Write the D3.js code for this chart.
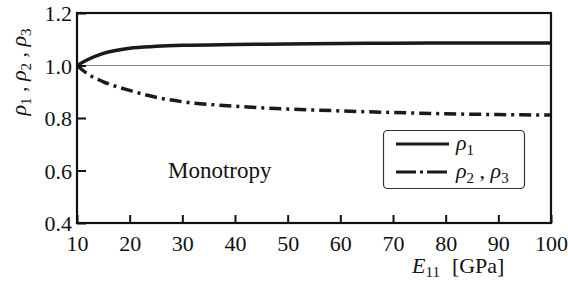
<!DOCTYPE html>
<html>
<head>
<meta charset="utf-8">
<script src="https://cdn.jsdelivr.net/npm/d3@7"></script>
<style>
  body { margin: 0; background: #fff; }
  svg text { font-family: "Liberation Serif", "Times New Roman", serif; fill: #111; }
</style>
</head>
<body>
<script>
var width = 568;
var height = 283;
var margin = { top: 13, right: 17, bottom: 60, left: 77 };

var modulus = [10, 12, 15, 20, 25, 30, 40, 50, 60, 70, 80, 90, 100];
var rho1 = [1.0, 1.022, 1.046, 1.066, 1.073, 1.077, 1.080, 1.082, 1.084, 1.085, 1.086, 1.086, 1.086];
var rho23 = [1.0, 0.968, 0.938, 0.905, 0.879, 0.862, 0.845, 0.834, 0.827, 0.821, 0.816, 0.813, 0.811];
var xTicks = [10, 20, 30, 40, 50, 60, 70, 80, 90, 100];
var yTicks = [0.4, 0.6, 0.8, 1.0, 1.2];

var svg = d3.select('body')
  .append('svg')
  .attr('width', width)
  .attr('height', height);

var xScale = d3.scaleLinear()
  .domain([10, 100])
  .range([margin.left, width - margin.right]);

var yScale = d3.scaleLinear()
  .domain([0.4, 1.2])
  .range([height - margin.bottom, margin.top]);

// thin reference line at 1.0
svg.append('line')
  .attr('x1', xScale(10))
  .attr('x2', xScale(100))
  .attr('y1', yScale(1))
  .attr('y2', yScale(1))
  .attr('stroke', '#888')
  .attr('stroke-width', 1);

var line = d3.line()
  .curve(d3.curveMonotoneX)
  .x(function(d) { return xScale(d[0]); })
  .y(function(d) { return yScale(d[1]); });

svg.append('path')
  .datum(d3.zip(modulus, rho1))
  .attr('d', line)
  .attr('fill', 'none')
  .attr('stroke', '#1a1a1a')
  .attr('stroke-width', 3.5);

svg.append('path')
  .datum(d3.zip(modulus, rho23))
  .attr('d', line)
  .attr('fill', 'none')
  .attr('stroke', '#1a1a1a')
  .attr('stroke-width', 3.5)
  .attr('stroke-dasharray', '12,5,3,5');

var xAxis = d3.axisBottom(xScale)
  .tickValues(xTicks)
  .tickSizeInner(-8)
  .tickSizeOuter(0)
  .tickPadding(12)
  .tickFormat(d3.format('d'));

var yAxis = d3.axisLeft(yScale)
  .tickValues(yTicks)
  .tickSizeInner(-9)
  .tickSizeOuter(0)
  .tickPadding(5)
  .tickFormat(d3.format('.1f'));

var gx = svg.append('g')
  .attr('transform', 'translate(0,' + (height - margin.bottom) + ')')
  .call(xAxis);

var gy = svg.append('g')
  .attr('transform', 'translate(' + margin.left + ',0)')
  .call(yAxis);

[gx, gy].forEach(function(g) {
  g.attr('font-family', null).attr('font-size', null);
  g.select('.domain').remove();
  g.selectAll('line').attr('stroke', '#111').attr('stroke-width', 2);
  g.selectAll('text')
    .style('font-size', '22px')
    .attr('fill', '#111');
});
gy.selectAll('text').attr('dy', '0.36em');

// frame
svg.append('rect')
  .attr('x', xScale(10))
  .attr('y', yScale(1.2))
  .attr('width', xScale(100) - xScale(10))
  .attr('height', yScale(0.4) - yScale(1.2))
  .attr('fill', 'none')
  .attr('stroke', '#111')
  .attr('stroke-width', 2.2);

svg.append('text')
  .attr('x', 168)
  .attr('y', 178)
  .style('font-size', '23px')
  .text('Monotropy');

// legend
var legend = svg.append('g');
legend.append('rect')
  .attr('x', 383.5)
  .attr('y', 130.5)
  .attr('width', 141)
  .attr('height', 58)
  .attr('rx', 4)
  .attr('fill', '#fff')
  .attr('stroke', '#333')
  .attr('stroke-width', 1.2);

legend.append('line')
  .attr('x1', 396).attr('x2', 449)
  .attr('y1', 144).attr('y2', 144)
  .attr('stroke', '#1a1a1a').attr('stroke-width', 3.2);

legend.append('line')
  .attr('x1', 396).attr('x2', 449)
  .attr('y1', 172).attr('y2', 172)
  .attr('stroke', '#1a1a1a').attr('stroke-width', 3.2)
  .attr('stroke-dasharray', '20,4,3,4');

var l1 = legend.append('text').attr('x', 456).attr('y', 150).style('font-size', '22px');
l1.append('tspan').style('font-style', 'italic').text('ρ');
l1.append('tspan').style('font-size', '15px').attr('dy', 5).text('1');

var l2 = legend.append('text').attr('x', 456).attr('y', 178).style('font-size', '22px');
l2.append('tspan').style('font-style', 'italic').text('ρ');
l2.append('tspan').style('font-size', '15px').attr('dy', 5).text('2');
l2.append('tspan').attr('dy', -5).text(' , ');
l2.append('tspan').style('font-style', 'italic').text('ρ');
l2.append('tspan').style('font-size', '15px').attr('dy', 5).text('3');

// y label
var yl = svg.append('text')
  .attr('transform', 'translate(26,72) rotate(-90)')
  .attr('text-anchor', 'middle')
  .style('font-size', '22px');
[['ρ', '1', ' , '], ['ρ', '2', ' , '], ['ρ', '3', '']].forEach(function(p) {
  yl.append('tspan').style('font-style', 'italic').text(p[0]);
  yl.append('tspan').style('font-size', '15px').attr('dy', 5).text(p[1]);
  yl.append('tspan').attr('dy', -5).text(p[2]);
});

// x label
var xl = svg.append('text')
  .attr('x', 412)
  .attr('y', 273)
  .style('font-size', '22px');
xl.append('tspan').style('font-style', 'italic').text('E');
xl.append('tspan').style('font-size', '15px').attr('dy', 4).text('11');
xl.append('tspan').attr('dy', -4).attr('dx', 12).text('[GPa]');
</script>
</body>
</html>
